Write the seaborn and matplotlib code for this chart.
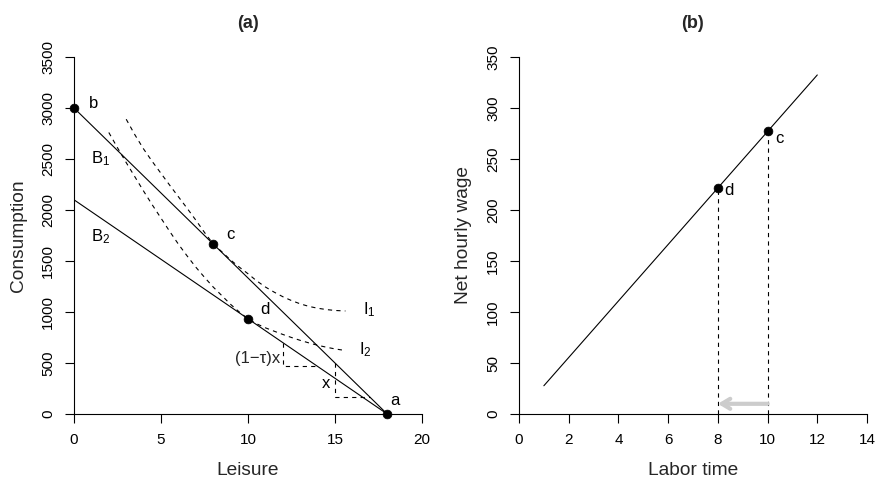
import numpy as np
import pandas as pd
import matplotlib
matplotlib.use("Agg")
import matplotlib.pyplot as plt
import seaborn as sns

# ---------------- data (panel a) ----------------
budget_x = [0, 18]
B1_y = [3000, 0]
B2_y = [2100, 0]

I1_x = [3.0, 3.5, 4.0, 4.5, 5.0, 5.5, 6.0, 6.5, 7.0, 7.5, 8.0, 8.5, 9.0, 9.5, 10.0,
        10.5, 11.0, 11.5, 12.0, 12.5, 13.0, 13.5, 14.0, 14.5, 15.0, 15.6]
I1_y = [2890, 2737, 2598, 2475, 2359, 2243, 2130, 2017, 1901, 1780, 1667, 1590, 1510,
        1440, 1375, 1305, 1245, 1195, 1150, 1112, 1080, 1055, 1037, 1024, 1015, 1010]

I2_x = [2.0, 2.5, 3.0, 3.5, 4.0, 4.5, 5.0, 5.5, 6.0, 6.5, 7.0, 7.5, 8.0, 8.5, 9.0, 9.5,
        10.0, 10.5, 11.0, 11.5, 12.0, 12.5, 13.0, 13.5, 14.0, 14.5, 15.0, 15.5]
I2_y = [2760, 2610, 2465, 2325, 2185, 2050, 1920, 1790, 1665, 1550, 1440, 1340, 1245,
        1160, 1075, 1000, 933, 884, 845, 812, 780, 750, 722, 697, 674, 655, 638, 625]

tax_box_x = [12, 12, 14]
tax_box_y = [700, 467, 467]
wage_box_x = [15, 15, 17]
wage_box_y = [500, 167, 167]

pts_a_label = ["b", "c", "d", "a"]
pts_a_x = [0, 8, 10, 18]
pts_a_y = [3000, 1667, 933, 0]

# ---------------- data (panel b) ----------------
wage_line_x = [1, 12]
wage_line_y = [27.7, 332.4]
pts_b_label = ["d", "c"]
pts_b_x = [8, 10]
pts_b_y = [221.6, 277.0]
arrow_from, arrow_to, arrow_y = 10, 8, 10

# ---------------- style ----------------
sns.set_theme(style="ticks")
plt.rcParams["font.family"] = ["Liberation Sans", "DejaVu Sans"]
plt.rcParams["mathtext.fontset"] = "custom"
plt.rcParams["mathtext.rm"] = "Liberation Sans"
plt.rcParams["mathtext.it"] = "Liberation Sans:italic"

DASH = (0, (3.8, 3.8))
LW = 0.8
TICK_FS = 11
LAB_FS = 13.8
TXT_FS = 12

fig = plt.figure(figsize=(8.76, 4.79), dpi=100)
axa = fig.add_axes([74 / 876, 65 / 479, 348 / 876, 357 / 479])
axb = fig.add_axes([519 / 876, 65 / 479, 348 / 876, 357 / 479])


def style_axes(ax, xt, yt, xlabel, ylabel, title):
    ax.set_xlim(xt[0], xt[-1])
    ax.set_ylim(yt[0], yt[-1])
    ax.set_xticks(xt)
    ax.set_yticks(yt)
    ax.set_xticklabels([str(v) for v in xt], fontsize=TICK_FS)
    ax.set_yticklabels([str(v) for v in yt], fontsize=TICK_FS, rotation=90, va="center")
    for s in ["top", "right"]:
        ax.spines[s].set_visible(False)
    for s in ["left", "bottom"]:
        ax.spines[s].set_linewidth(0.8)
        ax.spines[s].set_color("black")
    ax.tick_params(direction="out", length=6.5, width=0.8, colors="black", pad=7)
    ax.set_xlabel(xlabel, fontsize=LAB_FS, labelpad=11)
    ax.set_ylabel(ylabel, fontsize=LAB_FS, labelpad=10)
    ax.set_title(title, fontsize=13, fontweight="bold", pad=21)
    ax.set_facecolor("white")
    ax.grid(False)


# ---------------- panel (a) ----------------
sns.lineplot(x=budget_x, y=B1_y, ax=axa, color="black", lw=LW, sort=False, estimator=None)
sns.lineplot(x=budget_x, y=B2_y, ax=axa, color="black", lw=LW, sort=False, estimator=None)
for xs, ys in [(I1_x, I1_y), (I2_x, I2_y), (tax_box_x, tax_box_y), (wage_box_x, wage_box_y)]:
    sns.lineplot(x=xs, y=ys, ax=axa, color="black", lw=LW, linestyle=DASH,
                 sort=False, estimator=None)
sns.scatterplot(x=pts_a_x, y=pts_a_y, ax=axa, color="black", s=40, edgecolor="black",
                zorder=5, clip_on=False)

txt = dict(fontsize=TXT_FS, ha="center", va="center", color="black")
axa.text(1.1, 3046, "b", **txt)
axa.text(8.97, 1755, "c", **txt)
axa.text(10.98, 1020, "d", **txt)
axa.text(18.45, 137, "a", **txt)
axa.text(1.5, 2507, r"B$_1$", **txt)
axa.text(1.5, 1738, r"B$_2$", **txt)
axa.text(16.95, 1020, r"I$_1$", **txt)
axa.text(16.75, 627, r"I$_2$", **txt)
axa.text(11.85, 549, "(1\u2212\u03c4)x", fontsize=TXT_FS, ha="right", va="center")
axa.text(14.5, 300, "x", **txt)

style_axes(axa, [0, 5, 10, 15, 20], [0, 500, 1000, 1500, 2000, 2500, 3000, 3500],
           "Leisure", "Consumption", "(a)")

# ---------------- panel (b) ----------------
sns.lineplot(x=wage_line_x, y=wage_line_y, ax=axb, color="black", lw=LW, sort=False,
             estimator=None)
for px, py in zip(pts_b_x, pts_b_y):
    sns.lineplot(x=[px, px], y=[0, py], ax=axb, color="black", lw=LW, linestyle=DASH,
                 sort=False, estimator=None)
sns.scatterplot(x=pts_b_x, y=pts_b_y, ax=axb, color="black", s=40, edgecolor="black",
                zorder=5, clip_on=False)
axb.annotate("", xy=(arrow_to, arrow_y), xytext=(arrow_from, arrow_y),
             arrowprops=dict(arrowstyle="->,head_length=0.5,head_width=0.3",
                             color="#cccccc", lw=3, shrinkA=0, shrinkB=0))
axb.text(8.46, 219, "d", **txt)
axb.text(10.47, 270, "c", **txt)

style_axes(axb, [0, 2, 4, 6, 8, 10, 12, 14], [0, 50, 100, 150, 200, 250, 300, 350],
           "Labor time", "Net hourly wage", "(b)")

for ax in (axa, axb):
    if ax.get_legend() is not None:
        ax.get_legend().remove()

fig.savefig("out.png", dpi=100, facecolor="white")
